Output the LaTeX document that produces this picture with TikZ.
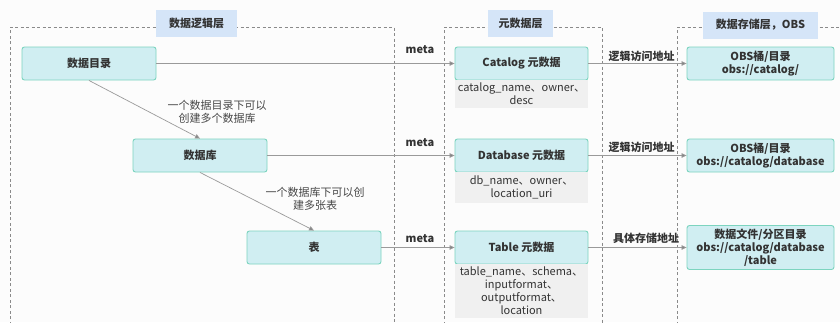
\documentclass[tikz,border=0pt]{standalone}
\usepackage{fontspec}
\setmainfont{Noto Sans CJK SC}
\usetikzlibrary{arrows.meta}
\definecolor{boxfill}{HTML}{D0EEF2}
\definecolor{boxline}{HTML}{7CD4BF}
\definecolor{titlefill}{HTML}{D5E5F8}
\definecolor{notefill}{HTML}{F0F0F0}
\definecolor{txt}{HTML}{333333}
\definecolor{frame}{HTML}{8A8A8A}
\definecolor{link}{HTML}{9A9A9A}
\tikzset{
  base/.style={font=\fontsize{11}{13}\selectfont, text=txt, align=center, inner sep=0pt},
  entity/.style={base, draw=boxline, fill=boxfill, line width=0.9pt, rounded corners=2.5pt,
    minimum height=33pt, font=\fontsize{11}{13}\selectfont\bfseries},
  note/.style={base, fill=notefill, minimum width=133pt},
  layertitle/.style={base, fill=titlefill, minimum height=27pt, font=\fontsize{11}{13}\selectfont\bfseries},
  layerframe/.style={draw=frame, dash pattern=on 3pt off 2.5pt, line width=0.7pt},
  link/.style={draw=link, line width=0.7pt, -{Triangle[length=5pt,width=4.5pt,fill=link!85!black]}},
  tag/.style={base, font=\fontsize{11}{13}\selectfont\bfseries},
  remark/.style={base, text=txt!90}
}
\begin{document}
\begin{tikzpicture}[x=1pt,y=-1pt]
\useasboundingbox (0,0) rectangle (840,322);
\fill[white!98!gray] (0,0) rectangle (840,322);

% dashed layer frames
\draw[layerframe] (10,330) -- (10,27) -- (394,27) -- (394,330);
\draw[layerframe] (444,330) -- (444,27) -- (602,27) -- (602,330);
\draw[layerframe] (677,330) -- (677,27) -- (850,27);

% layer titles
\node[layertitle, minimum width=81pt] (tlogic) at (196.5,23.5) {数据逻辑层};
\node[layertitle, minimum width=65pt] (tmeta) at (520.5,23.5) {元数据层};
\node[layertitle, minimum width=115pt] (tstore) at (760.5,25) {数据存储层，OBS};

% logical layer
\node[entity, minimum width=134pt] (cat) at (89,63.5) {数据目录};
\node[entity, minimum width=134pt] (db) at (200,155.5) {数据库};
\node[entity, minimum width=134pt] (tb) at (314,247.5) {表};

% metadata layer
\node[entity, minimum width=133pt] (catm) at (521.5,63.5) {Catalog 元数据};
\node[entity, minimum width=133pt] (dbm) at (521.5,155.5) {Database 元数据};
\node[entity, minimum width=133pt] (tbm) at (521.5,247.5) {Table 元数据};
\node[note, minimum height=28pt] (catd) at (521.5,94) {catalog\_name、owner、\\desc};
\node[note, minimum height=31pt] (dbd) at (521.5,187.5) {db\_name、owner、\\location\_uri};
\node[note, minimum height=54pt] (tbd) at (521.5,291) {table\_name、schema、\\inputformat、\\outputformat、\\location};

% storage layer
\node[entity, minimum width=147pt] (obs1) at (760.5,63.5) {OBS桶/目录\\obs://catalog/};
\node[entity, minimum width=147pt] (obs2) at (760.5,155.5) {OBS桶/目录\\obs://catalog/database};
\node[entity, minimum width=147pt, minimum height=44pt] (obs3) at (760.5,247.5) {数据文件/分区目录\\obs://catalog/database\\/table};

% hierarchy inside the logical layer
\draw[link] (cat.south) -- (db.north);
\draw[link] (db.south) -- (tb.north);
\node[remark] (r1) at (217,112) {一个数据目录下可以\\创建多个数据库};
\node[remark] (r2) at (315,199) {一个数据库下可以创\\建多张表};

% logical objects to their metadata
\draw[link] (cat.east) -- (catm.west);
\draw[link] (db.east) -- (dbm.west);
\draw[link] (tb.east) -- (tbm.west);
\node[tag] (m1) at (420,50) {meta};
\node[tag] (m2) at (420,143) {meta};
\node[tag] (m3) at (420,239) {meta};

% metadata to storage locations
\draw[link] (catm.east) -- (obs1.west);
\draw[link] (dbm.east) -- (obs2.west);
\draw[link] (tbm.east) -- (obs3.west);
\node[tag] (a1) at (641.5,56) {逻辑访问地址};
\node[tag] (a2) at (641.5,147) {逻辑访问地址};
\node[tag] (a3) at (646,238) {具体存储地址};
\end{tikzpicture}
\end{document}
